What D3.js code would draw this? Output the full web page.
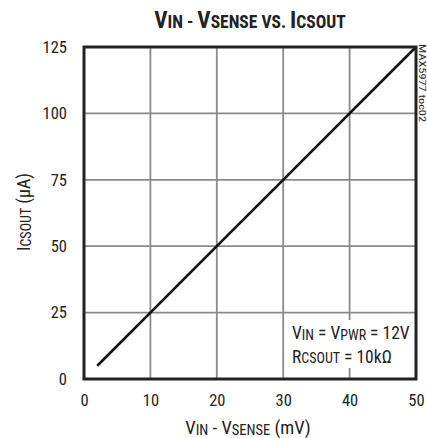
<!DOCTYPE html>
<html><head><meta charset="utf-8">
<script src="https://cdn.jsdelivr.net/npm/d3@7"></script>
<style>
body{margin:0;background:#fff;}
svg text{font-family:"Liberation Sans Narrow","Roboto Condensed","DejaVu Sans Condensed",sans-serif;fill:#222;}
</style></head><body>
<svg id="c" width="427" height="438"></svg>
<script>
const xTicks = [0,10,20,30,40,50];
const yTicks = [0,25,50,75,100,125];
const vDiff = [2,10,20,30,40,50];      // mV
const iCsout = [5,25,50,75,100,125];   // uA

const svg = d3.select("#c");
const m = {l:84, r:416, t:47, b:379};
const x = d3.scaleLinear().domain([0,50]).range([m.l,m.r]);
const y = d3.scaleLinear().domain([0,125]).range([m.b,m.t]);

// grid
svg.append("g").selectAll("line").data(xTicks.slice(1,-1)).join("line")
  .attr("x1",d=>x(d)).attr("x2",d=>x(d)).attr("y1",m.t).attr("y2",m.b)
  .attr("stroke","#8a8a8a").attr("stroke-width",1.8);
svg.append("g").selectAll("line").data(yTicks.slice(1,-1)).join("line")
  .attr("y1",d=>y(d)).attr("y2",d=>y(d)).attr("x1",m.l).attr("x2",m.r)
  .attr("stroke","#8a8a8a").attr("stroke-width",1.8);

// annotation box (white background)
svg.append("rect").attr("x",287).attr("y",320).attr("width",126).attr("height",48).attr("fill","#fff");
const ann = svg.append("text").attr("font-size",17.5);
const l1 = ann.append("tspan").attr("x",292).attr("y",339);
l1.append("tspan").text("V");
l1.append("tspan").attr("font-size",14).attr("dy",1).text("IN");
l1.append("tspan").attr("dy",-1).text(" = V");
l1.append("tspan").attr("font-size",14).attr("dy",1).text("PWR");
l1.append("tspan").attr("dy",-1).text(" = 12V");
const l2 = ann.append("tspan").attr("x",292).attr("y",363);
l2.append("tspan").text("R");
l2.append("tspan").attr("font-size",14).text("CSOUT");
l2.append("tspan").text(" = 10k\u03A9");

// data line
svg.append("path").datum(vDiff.map((v,i)=>[v,iCsout[i]]))
  .attr("d",d3.line().x(d=>x(d[0])).y(d=>y(d[1])))
  .attr("fill","none").attr("stroke","#111").attr("stroke-width",2.6);

// frame
svg.append("rect").attr("x",m.l).attr("y",m.t).attr("width",m.r-m.l).attr("height",m.b-m.t)
  .attr("fill","none").attr("stroke","#222").attr("stroke-width",3);

// axes labels
const xa = svg.append("g").attr("transform",`translate(0,${m.b})`)
  .call(d3.axisBottom(x).tickValues(xTicks).tickSize(0).tickPadding(15));
xa.select(".domain").remove();
xa.selectAll("text").attr("font-size",16.5).attr("font-family",null);
const ya = svg.append("g").attr("transform",`translate(${m.l},0)`)
  .call(d3.axisLeft(y).tickValues(yTicks).tickSize(0).tickPadding(17));
ya.select(".domain").remove();
ya.selectAll("text").attr("font-size",16.5).attr("font-family",null);

// title
const t = svg.append("text").attr("x",250).attr("y",28).attr("text-anchor","middle")
  .attr("font-weight","bold").attr("font-size",23);
t.append("tspan").text("V");
t.append("tspan").attr("font-size",17.5).text("IN - ");
t.append("tspan").text("V");
t.append("tspan").attr("font-size",17.5).text("SENSE VS. ");
t.append("tspan").text("I");
t.append("tspan").attr("font-size",17.5).text("CSOUT");

// x title
const xt = svg.append("text").attr("x",248).attr("y",434).attr("text-anchor","middle").attr("font-size",18.5);
xt.append("tspan").text("V");
xt.append("tspan").attr("font-size",14.5).attr("dy",1).text("IN");
xt.append("tspan").attr("dy",-1).text(" - V");
xt.append("tspan").attr("font-size",14.5).attr("dy",1).text("SENSE");
xt.append("tspan").attr("dy",-1).text(" (mV)");

// y title
const yt = svg.append("text").attr("transform","translate(30,212) rotate(-90)").attr("text-anchor","middle").attr("font-size",18);
yt.append("tspan").text("I");
yt.append("tspan").attr("font-size",14).attr("dy",1).text("CSOUT");
yt.append("tspan").attr("dy",-1).text(" (\u00B5A)");

// watermark
svg.append("text").attr("transform","translate(419,44) rotate(90)").attr("font-size",8.5)
  .attr("textLength",78).attr("lengthAdjust","spacingAndGlyphs")
  .attr("fill","#555").text("MAX5977 toc02");
</script></body></html>
